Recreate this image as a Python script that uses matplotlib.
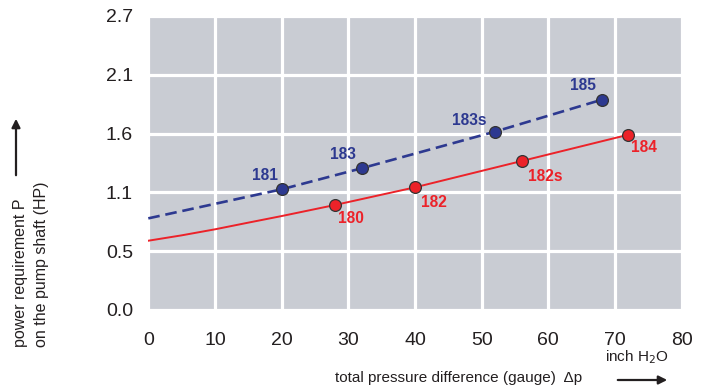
import matplotlib
matplotlib.use("Agg")
import matplotlib.pyplot as plt
import numpy as np

plt.rcParams['font.family'] = ['Liberation Sans', 'DejaVu Sans']

# data (HP)
blue_x = [0, 20, 32, 52, 68]
blue_y = [0.836, 1.101, 1.293, 1.627, 1.918]
blue_pts_x = [20, 32, 52, 68]
blue_pts_y = [1.101, 1.293, 1.627, 1.918]
blue_labels = ["181", "183", "183s", "185"]

red_x = [0, 5, 10, 15, 20, 28, 40, 56, 72]
red_y = [0.632, 0.681, 0.736, 0.797, 0.857, 0.958, 1.119, 1.359, 1.599]
red_pts_x = [28, 40, 56, 72]
red_pts_y = [0.958, 1.119, 1.359, 1.599]
red_labels = ["180", "182", "182s", "184"]

x_ticks = [0, 10, 20, 30, 40, 50, 60, 70, 80]
y_tick_labels = ["0.0", "0.5", "1.1", "1.6", "2.1", "2.7"]
y_step = 0.5364

blue = "#2d3990"
red = "#ec2229"
gray = "#c9ccd3"

fig = plt.figure(figsize=(7.11, 3.87), dpi=100)
ax = fig.add_axes([148.3/711, 77/387, 533.4/711, 294/387])
ax.set_facecolor(gray)
ax.set_xlim(0, 80)
ax.set_ylim(0, 5*y_step)
for s in ax.spines.values():
    s.set_visible(False)
ax.set_xticks(x_ticks)
ax.set_xticklabels([str(v) for v in x_ticks])
ax.set_yticks([i*y_step for i in range(6)])
ax.set_yticklabels(y_tick_labels)
ax.tick_params(axis='both', length=0, labelsize=14, colors='#231f20')
ax.tick_params(axis='y', pad=11)
ax.tick_params(axis='x', pad=16)
ax.grid(True, color='white', linewidth=2.3)
ax.set_axisbelow(True)

ax.plot(blue_x, blue_y, color=blue, lw=1.9, dashes=(4.4, 2.2), zorder=3)
ax.plot(red_x, red_y, color=red, lw=1.4, zorder=3)
ax.plot(blue_pts_x, blue_pts_y, 'o', ms=8.5, mfc=blue, mec='#333333', mew=0.9, zorder=4)
ax.plot(red_pts_x, red_pts_y, 'o', ms=8.5, mfc=red, mec='#333333', mew=0.9, zorder=4)

blue_off = [(-17, 14), (-19, 14), (-26, 11), (-19, 14)]
red_off = [(16, -14), (19, -15), (24, -15), (16, -13)]
for x, y, t, o in zip(blue_pts_x, blue_pts_y, blue_labels, blue_off):
    ax.annotate(t, (x, y), xytext=o, textcoords='offset pixels', ha='center', va='center',
                color=blue, fontsize=11.2, fontweight='bold', zorder=5)
for x, y, t, o in zip(red_pts_x, red_pts_y, red_labels, red_off):
    ax.annotate(t, (x, y), xytext=o, textcoords='offset pixels', ha='center', va='center',
                color=red, fontsize=11.2, fontweight='bold', zorder=5)

# y label
fig.text(21/711, 1-347/387, "power requirement P", rotation=90, ha='center', va='bottom',
         fontsize=11.5, color='#231f20')
fig.text(42/711, 1-347/387, "on the pump shaft (HP)", rotation=90, ha='center', va='bottom',
         fontsize=11.5, color='#231f20')
fig.add_artist(matplotlib.patches.FancyArrowPatch((16/711, 1-178/387), (16/711, 1-116/387),
               transform=fig.transFigure, arrowstyle='-|>,head_length=5,head_width=2.5',
               color='#231f20', lw=1.6, mutation_scale=1))

# x label
fig.text(335/711, 1-378/387, "total pressure difference (gauge)  \u0394p", ha='left', va='center',
         fontsize=11, color='#231f20')
fig.text(637/711, 1-357/387, "inch H$_2$O", ha='center', va='center', fontsize=11, color='#231f20')
fig.add_artist(matplotlib.patches.FancyArrowPatch((615/711, 1-380/387), (670/711, 1-380/387),
               transform=fig.transFigure, arrowstyle='-|>,head_length=5,head_width=2.5',
               color='#231f20', lw=1.6, mutation_scale=1))

fig.savefig("out.png", dpi=100)
